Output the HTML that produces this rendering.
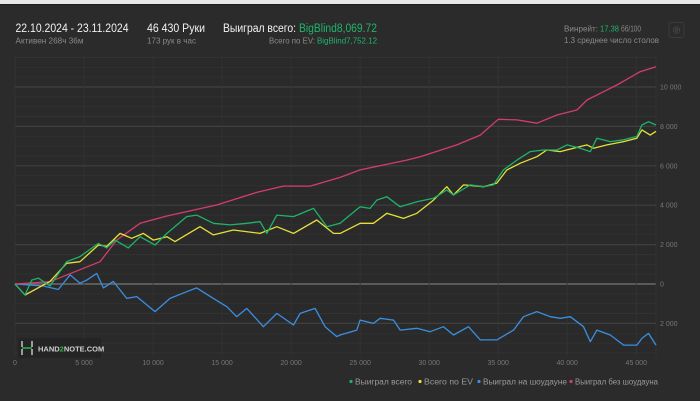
<!DOCTYPE html>
<html><head><meta charset="utf-8">
<style>
html,body{margin:0;padding:0;background:#2b2b2b;}
body{width:700px;height:401px;overflow:hidden;position:relative;font-family:"Liberation Sans","DejaVu Sans",sans-serif;}
</style></head>
<body>
<svg id="chart" width="700" height="401" style="position:absolute;left:0;top:0;" font-family="Liberation Sans, DejaVu Sans, sans-serif">
  <rect x="0" y="0" width="700" height="4" fill="#e8e8e8"/>
  <rect x="0" y="4" width="700" height="1" fill="#1c1c1c"/>
  <g>
    <text x="15.5" y="32" font-size="11.5" fill="#f2f2f2" textLength="113" lengthAdjust="spacingAndGlyphs">22.10.2024 - 23.11.2024</text>
    <text x="15.5" y="43.5" font-size="8" fill="#8a8a8a" textLength="68" lengthAdjust="spacingAndGlyphs">Активен 268ч 36м</text>
    <text x="147" y="32" font-size="11.5" fill="#f2f2f2" textLength="58" lengthAdjust="spacingAndGlyphs">46 430 Руки</text>
    <text x="147" y="43.5" font-size="8" fill="#8a8a8a" textLength="49" lengthAdjust="spacingAndGlyphs">173 рук в час</text>
    <text x="223" y="32" font-size="11.5" fill="#f2f2f2" textLength="73" lengthAdjust="spacingAndGlyphs">Выиграл всего:</text>
    <text x="299" y="32" font-size="11.5" fill="#1fb56b" textLength="78" lengthAdjust="spacingAndGlyphs">BigBlind8,069.72</text>
    <text x="269" y="43.5" font-size="8" fill="#8a8a8a" textLength="46" lengthAdjust="spacingAndGlyphs">Всего по EV:</text>
    <text x="317" y="43.5" font-size="8" fill="#1fb56b" textLength="60" lengthAdjust="spacingAndGlyphs">BigBlind7,752.12</text>
    <text x="564" y="31.5" font-size="8" fill="#8a8a8a" textLength="34" lengthAdjust="spacingAndGlyphs">Винрейт:</text>
    <text x="600" y="31.5" font-size="8" fill="#1fb56b" textLength="19" lengthAdjust="spacingAndGlyphs">17.38</text>
    <text x="621" y="31.5" font-size="8" fill="#8a8a8a" textLength="20" lengthAdjust="spacingAndGlyphs">бб/100</text>
    <text x="564" y="43" font-size="8" fill="#8a8a8a" textLength="95" lengthAdjust="spacingAndGlyphs">1.3 среднее число столов</text>
  </g>
  <g>
    <rect x="669" y="22.5" width="15" height="15" rx="2" fill="#2b2b2b" stroke="#3a3a3a"/>
    <circle cx="676.5" cy="30" r="3.2" fill="none" stroke="#4a4a4a" stroke-width="1.2" stroke-dasharray="1.5 1"/>
    <circle cx="676.5" cy="30" r="1.2" fill="none" stroke="#4a4a4a" stroke-width="0.8"/>
  </g>
  <g id="grid"></g>
  <g id="series"></g>
  <g id="labels"></g>
  <g>
    <rect x="18" y="338" width="83" height="20" fill="#242424"/>
    <path d="M22 341 v6 M22 349 v6 M32 341 v6 M32 349 v6" stroke="#ddd" stroke-width="1.3"/>
    <path d="M22 348 L32 348" stroke="#2fb24a" stroke-width="1.5"/>
    <text x="38" y="351.5" font-size="7.5" font-weight="bold" fill="#cfcfcf">HAND<tspan fill="#2fb24a">2</tspan>NOTE.COM</text>
  </g>
  <g id="legend"></g>
</svg>

<script>
// axis domain
const xTicks = [0,5000,10000,15000,20000,25000,30000,35000,40000,45000];
const xTickLabels = ["0","5 000","10 000","15 000","20 000","25 000","30 000","35 000","40 000","45 000"];
const yTicks = [-2000,0,2000,4000,6000,8000,10000];
const yTickLabels = ["2 000","0","2 000","4 000","6 000","8 000","10 000"];
const totalHands = 46430;

// series data (hands, BB)
const redHands = [0,2536,6160,7370,9060,11000,14600,17510,19440,21380,23550,25000,28380,29350,32000,33700,35000,36360,37800,39250,40700,41430,42630,43600,45290,46430];
const redVals  = [0,117,1130,2230,3080,3450,4010,4650,4970,4970,5410,5790,6290,6460,7060,7560,8360,8330,8160,8580,8830,9340,9760,10100,10780,11030];

const greenHands = [0,725,1210,1690,2536,3740,4710,6040,6640,7250,8210,9060,10140,11000,12440,13160,14370,15580,16790,17750,18240,18960,20170,21620,22590,23550,25000,25720,26210,26930,27900,29110,30310,31280,31760,32970,33940,34660,35380,36360,37320,38290,39250,39980,40940,41670,42150,43120,44080,45050,45410,45890,46430];
const greenVals  = [0,-560,200,300,-100,1130,1390,2060,1830,2230,1830,2400,1980,2570,3420,3500,3080,3000,3080,3160,2570,3500,3420,3840,2910,3080,3920,3840,4260,4430,3920,4180,4350,4770,4520,5030,4940,5030,5790,6290,6720,6800,6800,7060,6890,6720,7400,7230,7320,7490,8070,8240,8069];

const yellowHands = [0,725,2536,3740,4710,6040,6640,7610,8450,9300,10020,11000,11590,13400,14370,15820,17750,18960,20170,21860,23070,23550,25000,25960,26930,28140,29110,30310,31280,31760,32490,33940,34900,35630,36600,37800,38520,39490,40460,41430,41910,42880,44080,45050,45410,46010,46430];
const yellowVals  = [0,-560,130,1050,1130,1980,1910,2570,2320,2570,2230,2400,2150,2910,2490,2740,2570,2910,2570,3250,2570,2570,3080,3080,3590,3330,3590,4260,4940,4520,5030,4940,5120,5790,6130,6460,6800,6720,6890,7060,6890,7060,7230,7400,7820,7560,7752];

const blueHands = [0,2050,3140,3990,4710,5200,5920,6400,7120,8090,8820,10140,11230,12440,13160,14370,15340,16060,16790,17990,18960,20170,20650,21740,22460,23310,23550,24760,25000,25960,26450,27420,27900,29110,30070,31040,31760,32850,33700,34900,36110,36830,37800,38770,39490,40220,41180,41670,42150,43120,44080,45050,45410,45890,46430];
const blueVals  = [0,-100,-280,460,40,200,540,-200,130,-730,-640,-1400,-730,-390,-200,-730,-1150,-1660,-1240,-2170,-1490,-2080,-1490,-1240,-2170,-2670,-2590,-2340,-1830,-2000,-1740,-1830,-2340,-2250,-2420,-2170,-2590,-2170,-2840,-2840,-2340,-1660,-1400,-1660,-1740,-1660,-2170,-2930,-2340,-2590,-3100,-3100,-2760,-2510,-3100];

const legendLabels = ["Выиграл всего","Всего по EV","Выиграл на шоудауне","Выиграл без шоудауна"];

const PL=15, PR=656, PT=55, PB=356, Y0=284, PX2000=39.4;
function xScale(h){ return PL + h/totalHands*(PR-PL); }
function yScale(v){ return Y0 - v/2000*PX2000; }

const NS="http://www.w3.org/2000/svg";
function mk(tag, attrs, parent){ const e=document.createElementNS(NS,tag); for(const k in attrs) e.setAttribute(k,attrs[k]); parent.appendChild(e); return e; }

const grid=document.getElementById('grid');
const bg=mk('rect',{x:PL,y:PT,width:PR-PL,height:PB-PT,fill:'#2a2a2a'},grid);


for(let v=-4000; v<=11500; v+=500){
  const y=yScale(v); if(y<PT||y>PB) continue;
  const major = v%2000===0;
  const l=mk('line',{x1:PL,x2:PR,y1:y,y2:y,stroke:major?'#404040':'#333333','stroke-width':major?1.2:0.8},grid);
  
  
}
const zl=mk('line',{x1:PL,x2:PR,y1:Y0,y2:Y0,stroke:'#6a6a6a','stroke-width':1.6},grid);


xTicks.forEach((t,i)=>{
  const x=xScale(t);
  const l=mk('line',{x1:x,x2:x,y1:PT,y2:PB,stroke:'#343434','stroke-width':0.8},grid);
  
  
  const tx=mk('text',{x:x,y:365,'font-size':7,fill:'#777','text-anchor':'middle'},document.getElementById('labels'));
  tx.textContent=xTickLabels[i];
  
  
});
const rl=mk('line',{x1:PR,x2:PR,y1:PT,y2:PB,stroke:'#343434','stroke-width':0.8},grid);


yTicks.forEach((t,i)=>{
  const tx=mk('text',{x:660,y:yScale(t)+2.5,'font-size':7,fill:'#777'},document.getElementById('labels'));
  tx.textContent=yTickLabels[i];
  
  
});

const ser=document.getElementById('series');
function drawLine(hs, vs, color, name){
  const pts=hs.map((h,i)=>xScale(h).toFixed(1)+','+yScale(vs[i]).toFixed(1)).join(' ');
  const p=mk('polyline',{points:pts,fill:'none',stroke:color,'stroke-width':1.3,'stroke-linejoin':'round'},ser);
  
  
}
drawLine(blueHands, blueVals, '#3a8fe0', 'line-showdown-won');
drawLine(redHands, redVals, '#d43d6c', 'line-non-showdown-won');
drawLine(yellowHands, yellowVals, '#e6e03a', 'line-ev-total');
drawLine(greenHands, greenVals, '#1db36b', 'line-total-won');

const lg=document.getElementById('legend');
const legendColors=['#1db36b','#e6e03a','#3a8fe0','#d43d6c'];
const legendX=[351,420,479,571];
const legendW=[57,49,84,83];
legendLabels.forEach((lab,i)=>{
  const c=mk('circle',{cx:legendX[i],cy:381.5,r:1.6,fill:legendColors[i]},lg);
  
  
  const t=mk('text',{x:legendX[i]+4,y:384.5,'font-size':8,fill:'#9a9a9a',textLength:legendW[i],lengthAdjust:'spacingAndGlyphs'},lg);
  t.textContent=lab;
  
  
});
</script>
</body></html>
